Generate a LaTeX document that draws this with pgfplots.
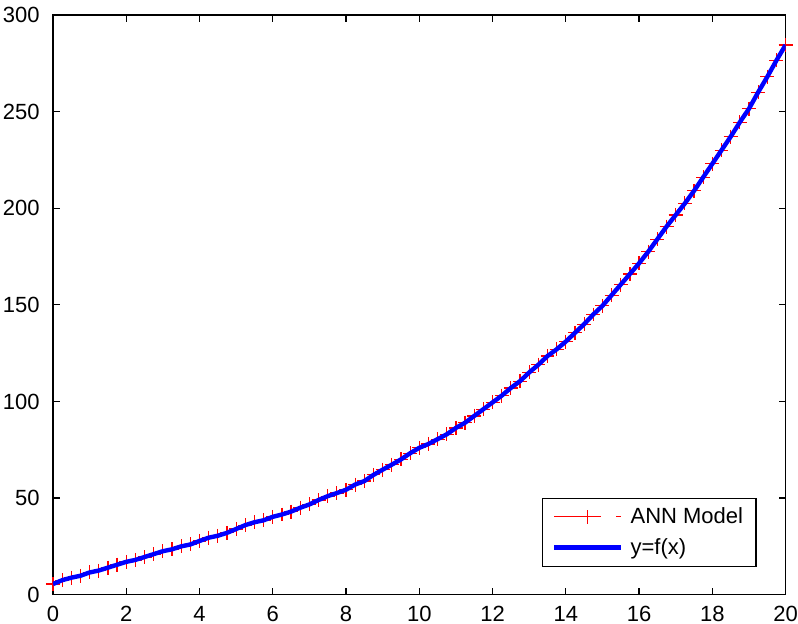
\documentclass[border=0pt]{standalone}
\usepackage{fontspec}
\setmainfont{Liberation Sans}
\usepackage{pgfplots}
\pgfplotsset{compat=1.18}
\usepackage{pgfplotstable}

% x, ANN model output, y=f(x)
\pgfplotstableread{
x     ann    fx
0     5.5    5.5
0.25  7.5    7.5
0.5   8.8    8.8
0.75  9.8    9.8
1     11.5   11.5
1.25  12.5   12.5
1.5   14     14
1.75  15.5   15.5
2     17     17
2.25  18     18
2.5   19.5   19.5
2.75  21     21
3     22.5   22.5
3.25  23.5   23.5
3.5   25     25
3.75  26     26
4     27.8   27.8
4.25  29.5   29.5
4.5   30.5   30.5
4.75  32     32
5     34     34
5.25  36     36
5.5   37.5   37.5
5.75  38.5   38.5
6     40.3   40.3
6.25  41.5   41.5
6.5   43     43
6.75  45     45
7     46.7   46.7
7.25  49     49
7.5   51     51
7.75  52.6   52.6
8     54.3   54.3
8.25  57     57
8.5   58.8   58.8
8.75  62     62
9     64.7   64.7
9.25  67.3   67.3
9.5   70     70
9.75  73.2   73.2
10    76     76
10.25 78     78
10.5  80.5   80.5
10.75 83     83
11    86.3   86.3
11.25 89     89
11.5  92.5   92.5
11.75 96     96
12    99.5   99.5
12.25 103    103
12.5  107    107
12.75 110.5  110.5
13    115    115
13.25 119    119
13.5  123.5  123.5
13.75 127    127
14    131    131
14.25 135.5  135.5
14.5  140    140
14.75 145    145
15    149.5  149.5
15.25 155    155
15.5  160.5  160.5
15.75 166    166
16    171.5  171.5
16.25 177.5  177.5
16.5  184    184
16.75 190.5  190.5
17    196.5  196.5
17.25 202.5  202.5
17.5  209    209
17.75 216    216
18    223    223
18.25 230    230
18.5  237    237
18.75 244.5  244.5
19    251.5  251.5
19.25 260    260
19.5  268    268
19.75 276.5  276.5
20    284.5  284.5
}\datatable

\begin{document}
\begin{tikzpicture}
\begin{axis}[
    scale only axis,
    width=366.5pt,
    height=290pt,
    xmin=0, xmax=20,
    ymin=0, ymax=300,
    xtick={0,2,...,20},
    ytick={0,50,...,300},
    tick align=inside,
    major tick length=3.5pt,
    axis line style={line width=0.8pt},
    every tick/.style={black, line width=0.6pt},
    font=\fontsize{11}{13}\selectfont,
    /pgf/number format/assume math mode=true,
    xticklabel style={inner sep=0pt, yshift=-5.5pt},
    yticklabel style={inner sep=0pt, xshift=-6.5pt},
    clip mode=individual,
    legend cell align=left,
    legend style={
        at={(1,0)}, anchor=south east,
        xshift=-14.5pt, yshift=14pt,
        draw=black, line width=0.6pt,
        font=\fontsize{11}{13}\selectfont,
        inner xsep=5pt, inner ysep=3pt,
        row sep=3pt,
        nodes={inner sep=1.5pt},
    },
]
\addplot[red, line width=0.4pt, mark=+, mark size=3.5pt,
         mark options={solid, line width=0.6pt},
         legend image code/.code={
             \draw[red, line width=0.4pt] (0pt,0pt) -- (23.5pt,0pt);
             \draw[red, line width=0.4pt] (31pt,0pt) -- (33.5pt,0pt);
             \draw[red, line width=0.6pt] (16.5pt,-3.5pt) -- (16.5pt,3.5pt);
             \draw[red, line width=0.6pt] (13pt,0pt) -- (20pt,0pt);
             \path (35.5pt,0pt);
         }]
    table[x=x, y=ann] {\datatable};
\addlegendentry{ANN Model}
\addplot[blue, line width=2.2pt, no marks,
         legend image code/.code={
             \draw[blue, line width=2.2pt] (0pt,0pt) -- (33.5pt,0pt);
             \path (35.5pt,0pt);
         }]
    table[x=x, y=fx] {\datatable};
\addlegendentry{y=f(x)}
\end{axis}
\path ([shift={(-26.5pt,-14.5pt)}]current axis.south west)
    rectangle ([shift={(6.2pt,7.5pt)}]current axis.north east);
\end{tikzpicture}
\end{document}
